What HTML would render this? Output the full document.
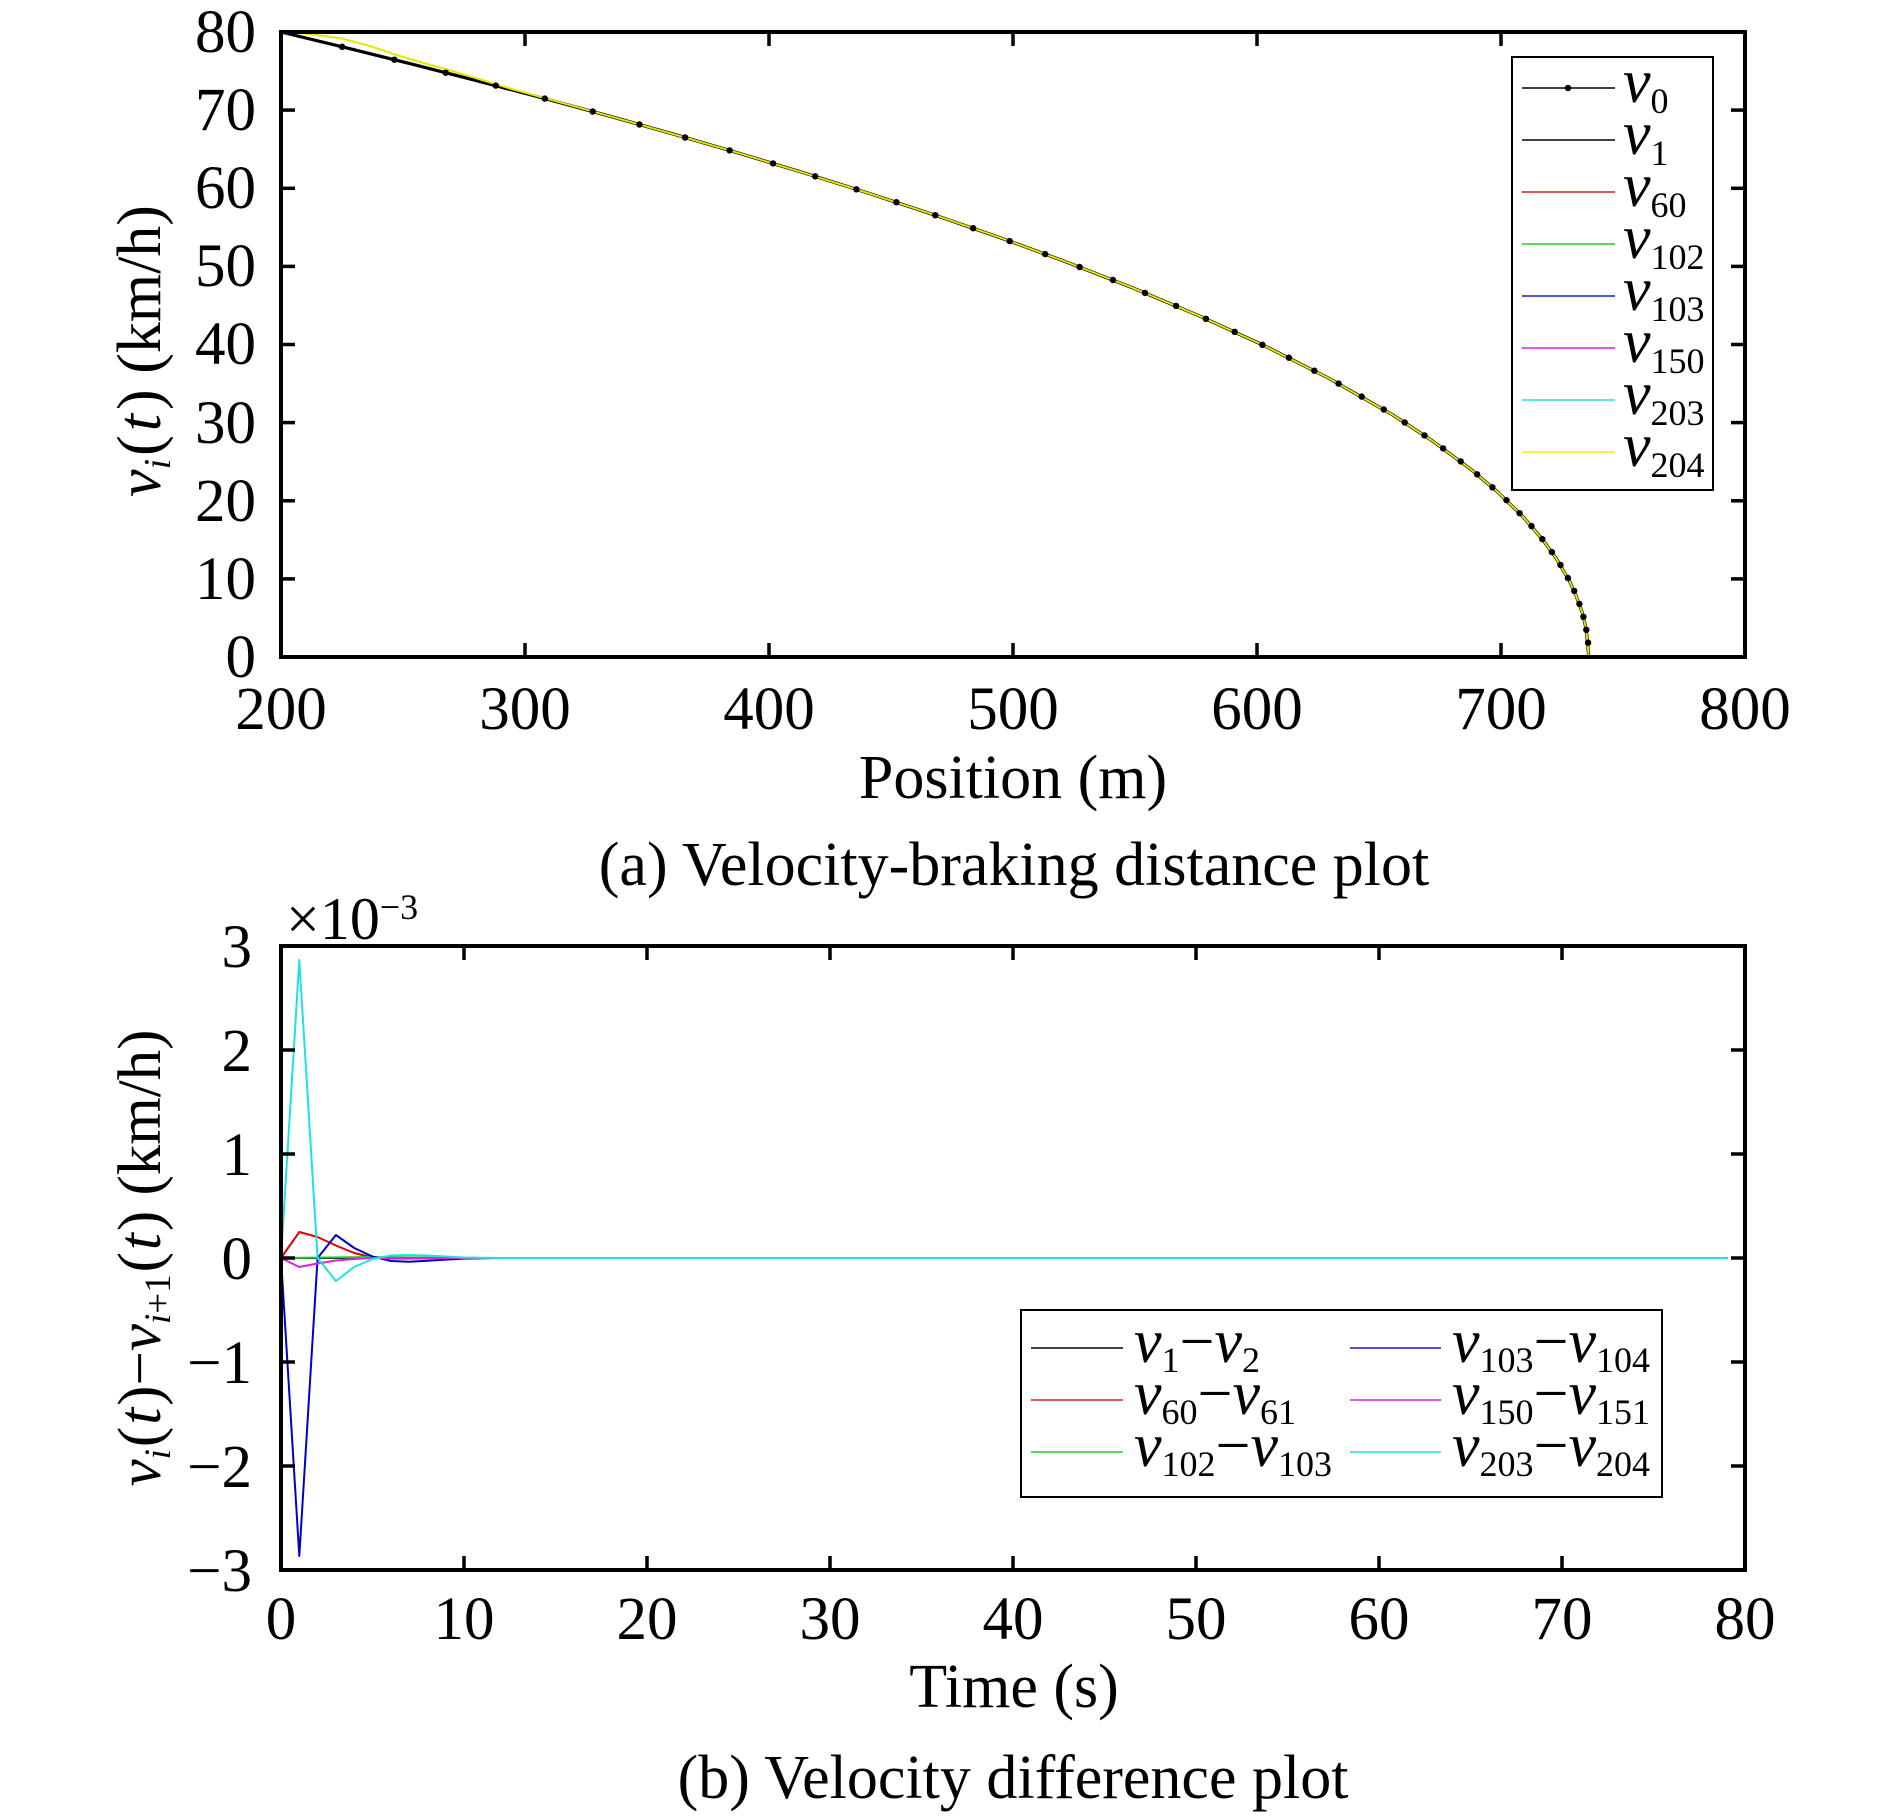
<!DOCTYPE html>
<html>
<head>
<meta charset="utf-8">
<style>
  html, body { margin: 0; padding: 0; background: #ffffff; }
  svg { display: block; }
  text { font-family: "Liberation Serif", "Times New Roman", serif; fill: #000; }
</style>
</head>
<body>
<svg width="1890" height="1820" viewBox="0 0 1890 1820" xmlns="http://www.w3.org/2000/svg">
<rect x="0" y="0" width="1890" height="1820" fill="#ffffff"/>

<!-- ================= TOP CHART ================= -->
<g fill="none" stroke-linejoin="round" stroke-linecap="round">
  <polyline stroke="#000" stroke-width="2.2" points="281,32 342.1,46.8 394.4,59.7 445.7,72.7 495.8,85.6 544.8,98.6 592.7,111.5 639.5,124.5 685.1,137.5 729.6,150.4 773.0,163.4 815.2,176.3 856.4,189.3 896.4,202.2 935.3,215.2 973.1,228.2 1009.7,241.1 1045.2,254.1 1079.6,267.0 1112.9,280.0 1145.0,292.9 1176.1,305.9 1205.9,318.8 1234.7,331.8 1262.4,344.8 1288.9,357.7 1314.3,370.7 1338.6,383.6 1361.7,396.6 1383.8,409.5 1404.7,422.5 1424.5,435.4 1443.1,448.4 1460.7,461.4 1477.1,474.3 1492.4,487.3 1506.5,500.2 1519.6,513.2 1531.5,526.1 1542.3,539.1 1551.9,552.1 1560.5,565.0 1567.9,578.0 1574.2,590.9 1579.4,603.9 1583.4,616.8 1586.3,629.8 1588.1,642.7 1588.8,657"/>
  <polyline stroke="#000" stroke-width="3.2" points="281,32 346.4,47.8 411.8,64.1 477.2,80.8 542.6,98.0 608.0,115.7 673.4,134.1 738.7,153.1 804.1,172.9 869.5,193.5 934.9,215.1 1000.3,237.7 1065.7,261.7 1131.1,287.2 1196.5,314.7 1261.9,344.5 1327.3,377.5 1392.7,414.9 1431.9,440.5 1471.1,469.5 1497.3,491.6 1523.4,517.2 1543.0,540.1 1556.1,558.2 1569.2,580.5 1575.7,594.5 1582.3,612.8 1586.2,629.0 1588.8,657"/>
  <polyline stroke="#e6e600" stroke-width="2" points="281,32 310,34 342,38.5 370,46 395,54.5 420,62 447,69.5 477.2,78.5 510,88.5 542.6,97.5 608.0,115.7 673.4,134.1 738.7,153.1 804.1,172.9 869.5,193.5 934.9,215.1 1000.3,237.7 1065.7,261.7 1131.1,287.2 1196.5,314.7 1261.9,344.5 1327.3,377.5 1392.7,414.9 1431.9,440.5 1471.1,469.5 1497.3,491.6 1523.4,517.2 1543.0,540.1 1556.1,558.2 1569.2,580.5 1575.7,594.5 1582.3,612.8 1586.2,629.0 1588.8,657"/>
</g>
<g fill="#000">
  <circle cx="342.1" cy="46.8" r="3.2"/><circle cx="394.4" cy="59.7" r="3.2"/><circle cx="445.7" cy="72.7" r="3.2"/><circle cx="495.8" cy="85.6" r="3.2"/><circle cx="544.8" cy="98.6" r="3.2"/><circle cx="592.7" cy="111.5" r="3.2"/><circle cx="639.5" cy="124.5" r="3.2"/><circle cx="685.1" cy="137.5" r="3.2"/><circle cx="729.6" cy="150.4" r="3.2"/><circle cx="773.0" cy="163.4" r="3.2"/><circle cx="815.2" cy="176.3" r="3.2"/><circle cx="856.4" cy="189.3" r="3.2"/><circle cx="896.4" cy="202.2" r="3.2"/><circle cx="935.3" cy="215.2" r="3.2"/><circle cx="973.1" cy="228.2" r="3.2"/><circle cx="1009.7" cy="241.1" r="3.2"/><circle cx="1045.2" cy="254.1" r="3.2"/><circle cx="1079.6" cy="267.0" r="3.2"/><circle cx="1112.9" cy="280.0" r="3.2"/><circle cx="1145.0" cy="292.9" r="3.2"/><circle cx="1176.1" cy="305.9" r="3.2"/><circle cx="1205.9" cy="318.8" r="3.2"/><circle cx="1234.7" cy="331.8" r="3.2"/><circle cx="1262.4" cy="344.8" r="3.2"/><circle cx="1288.9" cy="357.7" r="3.2"/><circle cx="1314.3" cy="370.7" r="3.2"/><circle cx="1338.6" cy="383.6" r="3.2"/><circle cx="1361.7" cy="396.6" r="3.2"/><circle cx="1383.8" cy="409.5" r="3.2"/><circle cx="1404.7" cy="422.5" r="3.2"/><circle cx="1424.5" cy="435.4" r="3.2"/><circle cx="1443.1" cy="448.4" r="3.2"/><circle cx="1460.7" cy="461.4" r="3.2"/><circle cx="1477.1" cy="474.3" r="3.2"/><circle cx="1492.4" cy="487.3" r="3.2"/><circle cx="1506.5" cy="500.2" r="3.2"/><circle cx="1519.6" cy="513.2" r="3.2"/><circle cx="1531.5" cy="526.1" r="3.2"/><circle cx="1542.3" cy="539.1" r="3.2"/><circle cx="1551.9" cy="552.1" r="3.2"/><circle cx="1560.5" cy="565.0" r="3.2"/><circle cx="1567.9" cy="578.0" r="3.2"/><circle cx="1574.2" cy="590.9" r="3.2"/><circle cx="1579.4" cy="603.9" r="3.2"/><circle cx="1583.4" cy="616.8" r="3.2"/><circle cx="1586.3" cy="629.8" r="3.2"/><circle cx="1588.1" cy="642.7" r="3.2"/>
</g>

<rect x="281" y="32" width="1464" height="625" fill="none" stroke="#000" stroke-width="4"/>
<g stroke="#000" stroke-width="3.5">
  <line x1="525" y1="657" x2="525" y2="643"/><line x1="769" y1="657" x2="769" y2="643"/><line x1="1013" y1="657" x2="1013" y2="643"/><line x1="1257" y1="657" x2="1257" y2="643"/><line x1="1501" y1="657" x2="1501" y2="643"/>
  <line x1="525" y1="32" x2="525" y2="46"/><line x1="769" y1="32" x2="769" y2="46"/><line x1="1013" y1="32" x2="1013" y2="46"/><line x1="1257" y1="32" x2="1257" y2="46"/><line x1="1501" y1="32" x2="1501" y2="46"/>
  <line x1="281" y1="110.1" x2="295" y2="110.1"/><line x1="281" y1="188.3" x2="295" y2="188.3"/><line x1="281" y1="266.4" x2="295" y2="266.4"/><line x1="281" y1="344.5" x2="295" y2="344.5"/><line x1="281" y1="422.6" x2="295" y2="422.6"/><line x1="281" y1="500.8" x2="295" y2="500.8"/><line x1="281" y1="578.9" x2="295" y2="578.9"/>
  <line x1="1745" y1="110.1" x2="1731" y2="110.1"/><line x1="1745" y1="188.3" x2="1731" y2="188.3"/><line x1="1745" y1="266.4" x2="1731" y2="266.4"/><line x1="1745" y1="344.5" x2="1731" y2="344.5"/><line x1="1745" y1="422.6" x2="1731" y2="422.6"/><line x1="1745" y1="500.8" x2="1731" y2="500.8"/><line x1="1745" y1="578.9" x2="1731" y2="578.9"/>
</g>
<g font-size="61" text-anchor="end">
  <text x="256" y="52">80</text>
  <text x="256" y="130">70</text>
  <text x="256" y="208">60</text>
  <text x="256" y="286">50</text>
  <text x="256" y="364">40</text>
  <text x="256" y="443">30</text>
  <text x="256" y="521">20</text>
  <text x="256" y="599">10</text>
  <text x="256" y="677">0</text>
</g>
<g font-size="61" text-anchor="middle">
  <text x="281" y="729">200</text>
  <text x="525" y="729">300</text>
  <text x="769" y="729">400</text>
  <text x="1013" y="729">500</text>
  <text x="1257" y="729">600</text>
  <text x="1501" y="729">700</text>
  <text x="1745" y="729">800</text>
</g>
<text x="1013" y="798" font-size="62" text-anchor="middle">Position (m)</text>
<text x="1014" y="885" font-size="62" text-anchor="middle">(a) Velocity-braking distance plot</text>
<text transform="translate(160,351) rotate(-90)" font-size="62" text-anchor="middle"><tspan font-style="italic">v</tspan><tspan font-style="italic" font-size="38" dy="10">i</tspan><tspan dy="-10" dx="3">(</tspan><tspan font-style="italic" dx="4">t</tspan><tspan dx="4">)</tspan> (km/h)</text>

<rect x="1512" y="57" width="201" height="433" fill="#fff" stroke="#000" stroke-width="2"/>
<g stroke-width="1.6">
  <line x1="1522" y1="88" x2="1615" y2="88" stroke="#000"/>
  <line x1="1522" y1="140" x2="1615" y2="140" stroke="#000"/>
  <line x1="1522" y1="192" x2="1615" y2="192" stroke="#d42020"/>
  <line x1="1522" y1="244" x2="1615" y2="244" stroke="#22cc22"/>
  <line x1="1522" y1="296" x2="1615" y2="296" stroke="#1a1acc"/>
  <line x1="1522" y1="348" x2="1615" y2="348" stroke="#e020e0"/>
  <line x1="1522" y1="400" x2="1615" y2="400" stroke="#20e0e0"/>
  <line x1="1522" y1="452" x2="1615" y2="452" stroke="#eeee00"/>
</g>
<circle cx="1568" cy="88" r="3.2" fill="#000"/>
<g font-size="62">
  <text x="1623" y="102"><tspan font-style="italic">v</tspan><tspan font-size="36" dy="11">0</tspan></text>
  <text x="1623" y="154"><tspan font-style="italic">v</tspan><tspan font-size="36" dy="11">1</tspan></text>
  <text x="1623" y="206"><tspan font-style="italic">v</tspan><tspan font-size="36" dy="11">60</tspan></text>
  <text x="1623" y="258"><tspan font-style="italic">v</tspan><tspan font-size="36" dy="11">102</tspan></text>
  <text x="1623" y="310"><tspan font-style="italic">v</tspan><tspan font-size="36" dy="11">103</tspan></text>
  <text x="1623" y="362"><tspan font-style="italic">v</tspan><tspan font-size="36" dy="11">150</tspan></text>
  <text x="1623" y="414"><tspan font-style="italic">v</tspan><tspan font-size="36" dy="11">203</tspan></text>
  <text x="1623" y="466"><tspan font-style="italic">v</tspan><tspan font-size="36" dy="11">204</tspan></text>
</g>

<!-- ================= BOTTOM CHART ================= -->
<g fill="none" stroke-width="2" stroke-linejoin="round" stroke-linecap="round">
  <polyline stroke="#000" points="281,1258 1727,1258"/>
  <polyline stroke="#e00000" points="281,1258 299.3,1232 317.6,1237 335.9,1245.5 354.2,1253 372.5,1257.5 390.8,1258.5 409.1,1258.5 445.7,1258 1727,1258"/>
  <polyline stroke="#22cc22" points="281,1258 372.5,1257 464,1258 1727,1258"/>
  <polyline stroke="#0000c8" points="281,1258 299.3,1556 317.6,1258 335.9,1235 354.2,1248 372.5,1256.5 390.8,1261 409.1,1261.8 427.4,1260.8 445.7,1259.6 464,1258.6 500.6,1258 1727,1258"/>
  <polyline stroke="#e020e0" points="281,1258 299.3,1267 317.6,1263.5 335.9,1260.5 354.2,1259 372.5,1258 1727,1258"/>
  <polyline stroke="#20e0e0" points="281,1258 299.3,960 317.6,1258 335.9,1281 354.2,1267 372.5,1259 390.8,1255.5 409.1,1255 427.4,1255.5 445.7,1256.5 464,1257.5 500.6,1258 1727,1258"/>
</g>
<rect x="281" y="946" width="1464" height="624" fill="none" stroke="#000" stroke-width="4"/>
<g stroke="#000" stroke-width="3.5">
  <line x1="464" y1="1570" x2="464" y2="1556"/><line x1="647" y1="1570" x2="647" y2="1556"/><line x1="830" y1="1570" x2="830" y2="1556"/><line x1="1013" y1="1570" x2="1013" y2="1556"/><line x1="1196" y1="1570" x2="1196" y2="1556"/><line x1="1379" y1="1570" x2="1379" y2="1556"/><line x1="1562" y1="1570" x2="1562" y2="1556"/>
  <line x1="464" y1="946" x2="464" y2="960"/><line x1="647" y1="946" x2="647" y2="960"/><line x1="830" y1="946" x2="830" y2="960"/><line x1="1013" y1="946" x2="1013" y2="960"/><line x1="1196" y1="946" x2="1196" y2="960"/><line x1="1379" y1="946" x2="1379" y2="960"/><line x1="1562" y1="946" x2="1562" y2="960"/>
  <line x1="281" y1="1050" x2="295" y2="1050"/><line x1="281" y1="1154" x2="295" y2="1154"/><line x1="281" y1="1258" x2="295" y2="1258"/><line x1="281" y1="1362" x2="295" y2="1362"/><line x1="281" y1="1466" x2="295" y2="1466"/>
  <line x1="1745" y1="1050" x2="1731" y2="1050"/><line x1="1745" y1="1154" x2="1731" y2="1154"/><line x1="1745" y1="1258" x2="1731" y2="1258"/><line x1="1745" y1="1362" x2="1731" y2="1362"/><line x1="1745" y1="1466" x2="1731" y2="1466"/>
</g>
<g font-size="61" text-anchor="end">
  <text x="252" y="967">3</text>
  <text x="252" y="1071">2</text>
  <text x="252" y="1175">1</text>
  <text x="252" y="1279">0</text>
  <text x="252" y="1383">−1</text>
  <text x="252" y="1487">−2</text>
  <text x="252" y="1591">−3</text>
</g>
<g font-size="61" text-anchor="middle">
  <text x="281" y="1639">0</text>
  <text x="464" y="1639">10</text>
  <text x="647" y="1639">20</text>
  <text x="830" y="1639">30</text>
  <text x="1013" y="1639">40</text>
  <text x="1196" y="1639">50</text>
  <text x="1379" y="1639">60</text>
  <text x="1562" y="1639">70</text>
  <text x="1745" y="1639">80</text>
</g>
<text x="286" y="939" font-size="60">×10<tspan font-size="36" dy="-20">−3</tspan></text>
<text x="1014" y="1707" font-size="62" text-anchor="middle">Time (s)</text>
<text x="1013" y="1798" font-size="62" text-anchor="middle">(b) Velocity difference plot</text>
<text transform="translate(160,1258) rotate(-90)" font-size="61" text-anchor="middle"><tspan font-style="italic">v</tspan><tspan font-style="italic" font-size="37" dy="10">i</tspan><tspan dy="-10" dx="2">(</tspan><tspan font-style="italic" dx="2">t</tspan><tspan dx="2">)−</tspan><tspan font-style="italic">v</tspan><tspan font-size="37" dy="10"><tspan font-style="italic">i</tspan>+1</tspan><tspan dy="-10" dx="2">(</tspan><tspan font-style="italic" dx="2">t</tspan><tspan dx="2">)</tspan> (km/h)</text>

<rect x="1021" y="1310" width="641" height="187" fill="#fff" stroke="#000" stroke-width="2"/>
<g stroke-width="1.6">
  <line x1="1031" y1="1348" x2="1123" y2="1348" stroke="#000"/>
  <line x1="1031" y1="1400" x2="1123" y2="1400" stroke="#d42020"/>
  <line x1="1031" y1="1452" x2="1123" y2="1452" stroke="#22cc22"/>
  <line x1="1350" y1="1348" x2="1441" y2="1348" stroke="#1a1acc"/>
  <line x1="1350" y1="1400" x2="1441" y2="1400" stroke="#d020d0"/>
  <line x1="1350" y1="1452" x2="1441" y2="1452" stroke="#20e0e0"/>
</g>
<g font-size="62">
  <text x="1134" y="1362"><tspan font-style="italic">v</tspan><tspan font-size="36" dy="10">1</tspan><tspan dy="-10">−</tspan><tspan font-style="italic">v</tspan><tspan font-size="36" dy="10">2</tspan></text>
  <text x="1134" y="1414"><tspan font-style="italic">v</tspan><tspan font-size="36" dy="10">60</tspan><tspan dy="-10">−</tspan><tspan font-style="italic">v</tspan><tspan font-size="36" dy="10">61</tspan></text>
  <text x="1134" y="1466"><tspan font-style="italic">v</tspan><tspan font-size="36" dy="10">102</tspan><tspan dy="-10">−</tspan><tspan font-style="italic">v</tspan><tspan font-size="36" dy="10">103</tspan></text>
  <text x="1452" y="1362"><tspan font-style="italic">v</tspan><tspan font-size="36" dy="10">103</tspan><tspan dy="-10">−</tspan><tspan font-style="italic">v</tspan><tspan font-size="36" dy="10">104</tspan></text>
  <text x="1452" y="1414"><tspan font-style="italic">v</tspan><tspan font-size="36" dy="10">150</tspan><tspan dy="-10">−</tspan><tspan font-style="italic">v</tspan><tspan font-size="36" dy="10">151</tspan></text>
  <text x="1452" y="1466"><tspan font-style="italic">v</tspan><tspan font-size="36" dy="10">203</tspan><tspan dy="-10">−</tspan><tspan font-style="italic">v</tspan><tspan font-size="36" dy="10">204</tspan></text>
</g>
</svg>
</body>
</html>
